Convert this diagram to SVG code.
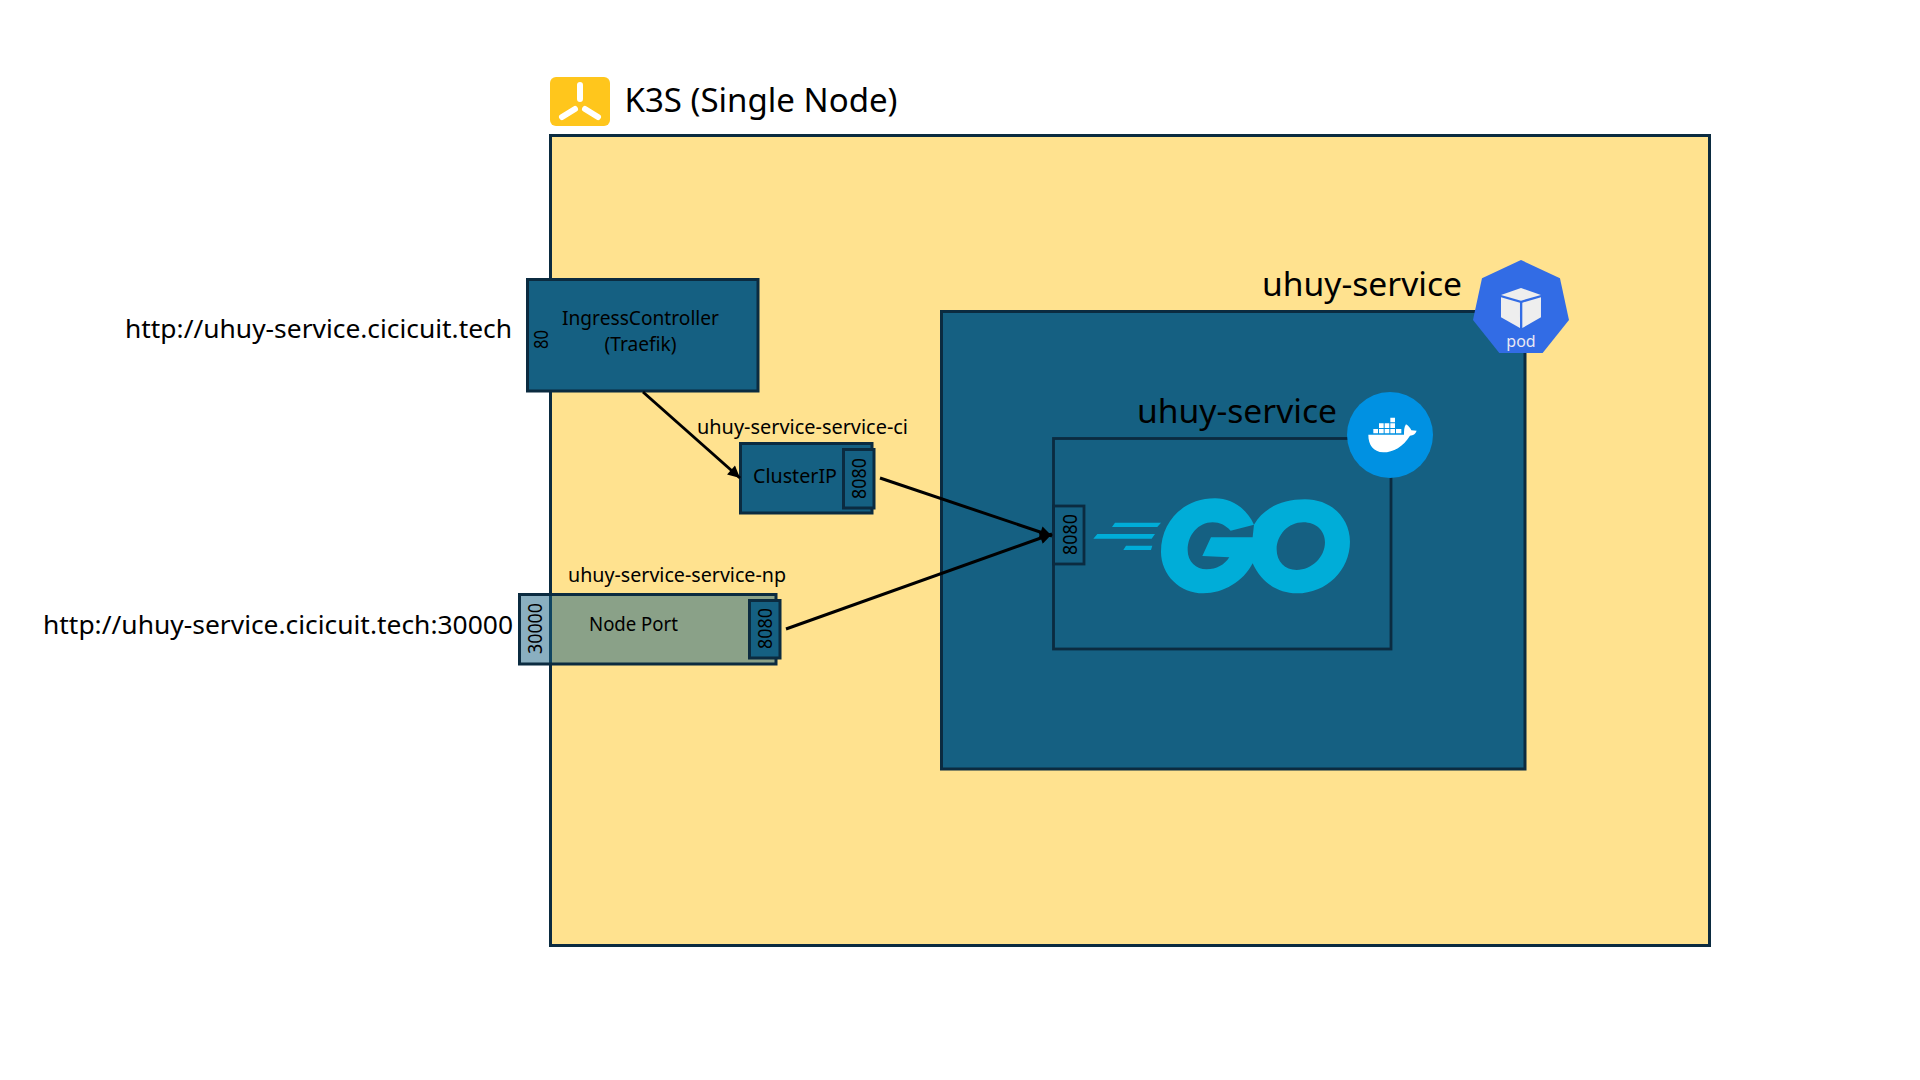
<svg xmlns="http://www.w3.org/2000/svg" width="1920" height="1080" viewBox="0 0 1920 1080">
<defs>
<style>
text{font-family:"Noto Sans","Liberation Sans",sans-serif;fill:#000}
.box{stroke:#0b2b40;stroke-width:3;fill:#156082}
.thin{stroke:#0b2b40;stroke-width:2.8;fill:none}
.t32{font-size:32px}.t26{font-size:26px}.t20{font-size:20px}
.m{text-anchor:middle}
.link{stroke:#000;stroke-width:3;fill:none}
</style>
<marker id="arrow" viewBox="0 0 10 10" refX="10" refY="5" markerWidth="15" markerHeight="12" markerUnits="userSpaceOnUse" orient="auto"><path d="M0 0L10 5L0 10Z" fill="#000"/></marker>
</defs>
<rect width="1920" height="1080" fill="#fff"/>
<g id="k3s-cluster">
<rect x="550.5" y="135.5" width="1159" height="810" fill="#ffe28f" stroke="#0b2b40" stroke-width="3"/>
<rect x="550" y="77" width="60" height="49" rx="6" fill="#ffc61c"/>
<path d="M580 85V99M585 109L598 117M575 109L562 117" stroke="#fff" stroke-width="6" stroke-linecap="round" fill="none"/>
<text class="t32" x="624.5" y="112" textLength="273" lengthAdjust="spacingAndGlyphs">K3S (Single Node)</text>
</g>
<g id="url-ingress"><text class="t26" x="125" y="337.5" textLength="387" lengthAdjust="spacingAndGlyphs">http://uhuy-service.cicicuit.tech</text></g>
<g id="url-nodeport"><text class="t26" x="43" y="633.5" textLength="470" lengthAdjust="spacingAndGlyphs">http://uhuy-service.cicicuit.tech:30000</text></g>
<g id="ingress-controller">
<rect class="box" x="527.5" y="279.5" width="230.5" height="111.5"/>
<text class="t20 m" x="640.5" y="325" textLength="157" lengthAdjust="spacingAndGlyphs">IngressController</text>
<text class="t20 m" x="640.5" y="351" textLength="72" lengthAdjust="spacingAndGlyphs">(Traefik)</text>
<text class="t20 m" transform="translate(548,339.5) rotate(-90)" textLength="19" lengthAdjust="spacingAndGlyphs">80</text>
</g>
<g id="cluster-ip">
<text class="t20" x="697" y="433.5" textLength="211" lengthAdjust="spacingAndGlyphs">uhuy-service-service-ci</text>
<rect class="box" x="740.5" y="443.5" width="131.5" height="69.5"/>
<rect class="box" x="843.5" y="449.5" width="30.5" height="58.5"/>
<text class="t20" x="753" y="483" textLength="84" lengthAdjust="spacingAndGlyphs">ClusterIP</text>
<text class="t20 m" transform="translate(866,478.5) rotate(-90)" textLength="41" lengthAdjust="spacingAndGlyphs">8080</text>
</g>
<g id="node-port">
<text class="t20" x="568" y="581.5" textLength="218" lengthAdjust="spacingAndGlyphs">uhuy-service-service-np</text>
<rect x="519.5" y="594.5" width="256.5" height="69.5" fill="#156082" fill-opacity=".5" stroke="#0b2b40" stroke-width="3"/>
<rect class="box" x="749.5" y="600.5" width="30.5" height="57.5"/>
<text class="t20" x="589" y="631" textLength="89" lengthAdjust="spacingAndGlyphs">Node Port</text>
<text class="t20 m" transform="translate(772,628.5) rotate(-90)" textLength="41" lengthAdjust="spacingAndGlyphs">8080</text>
<text class="t20 m" transform="translate(541.5,628.5) rotate(-90)" textLength="51" lengthAdjust="spacingAndGlyphs">30000</text>
</g>
<g id="pod-uhuy-service">
<rect class="box" x="941.5" y="311.5" width="583.5" height="457.5"/>
<text class="t32" x="1262" y="296" textLength="200" lengthAdjust="spacingAndGlyphs">uhuy-service</text>
<g transform="translate(1320,240) scale(.3333)">
<polygon points="603,60 720,115 747,240 668,339 538,339 459,240 486,115" fill="#326ce5"/>
<polygon points="603,144 663,165 603,182 543,165" fill="#eee"/>
<polygon points="543,172 600,188 600,264 543,232" fill="#eee"/>
<polygon points="607,188 663,172 663,232 607,264" fill="#eee"/>
</g>
<text x="1521" y="346.5" font-size="16" text-anchor="middle" style="fill:#e8e8f4">pod</text>
</g>
<g id="container-uhuy-service">
<rect class="thin" x="1053.5" y="438.5" width="337.5" height="210.5"/>
<text class="t32" x="1137" y="423" textLength="200" lengthAdjust="spacingAndGlyphs">uhuy-service</text>
<rect class="thin" x="1053.5" y="506" width="30.5" height="58"/>
<text class="t20 m" transform="translate(1076.5,534.5) rotate(-90)" textLength="41" lengthAdjust="spacingAndGlyphs">8080</text>
<circle cx="1390" cy="435" r="43" fill="#0091e2"/>
<g transform="translate(1320,240) scale(.3333)" fill="#fff">
<path d="M160 567h14v13h-14zM177 567h14v13h-14zM194 567h14v13h-14zM211 567h14v13h-14zM228 567h16v13h-16zM177 550h14v14h-14zM194 550h14v14h-14zM211 550h14v14h-14zM211 533h14v14h-14z"/>
<path d="M145 584L252 584C252 572 252 562 258 553C266 558 272 565 274 571L290 572C286 582 280 586 270 587C250 620 220 637 190 637C160 635 145 615 145 584Z"/>
</g>
<g transform="translate(1040,480) scale(.3333)" fill="#00add8">
<path fill-rule="evenodd" d="M642 134C620 85 575 55 525 55C430 55 363 125 363 215C363 285 420 340 490 340C550 340 610 305 638 250C665 310 715 340 770 340C860 340 930 270 930 185C930 115 875 58 795 58C725 58 670 85 642 134ZM642 134L572 152C555 135 540 127 518 127C475 127 443 165 443 210C443 245 468 268 500 268C530 268 553 255 568 232L487 228L513 172L638 172ZM790 127C745 127 710 165 710 208C710 245 735 270 770 270C815 270 855 232 855 187C855 152 828 127 790 127Z"/>
<path d="M225 128H363L352 141H216ZM172 162H345L335 176H160ZM258 197H337L333 210H250Z"/>
</g>
</g>
<g id="connectors">
<path class="link" d="M643 392L740 478" marker-end="url(#arrow)"/>
<path class="link" d="M880 478L1052 536" marker-end="url(#arrow)"/>
<path class="link" d="M786 629L1052 534" marker-end="url(#arrow)"/>
</g>
</svg>
